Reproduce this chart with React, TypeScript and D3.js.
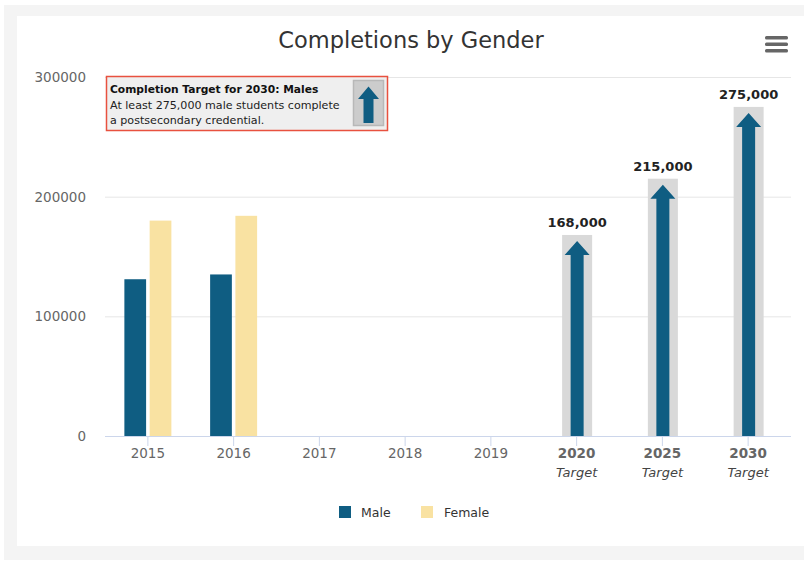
import React from 'react';
import * as d3 from 'd3';

const categories = ['2015', '2016', '2017', '2018', '2019', '2020', '2025', '2030'];
const targetFlags = [false, false, false, false, false, true, true, true];
const maleValues: (number | null)[] = [131000, 135000, null, null, null, null, null, null];
const femaleValues: (number | null)[] = [180000, 184000, null, null, null, null, null, null];
const targetValues: (number | null)[] = [null, null, null, null, null, 168000, 215000, 275000];
const yTicks = [0, 100000, 200000, 300000];

const W = 804;
const H = 563;
const FONT = '"DejaVu Sans", "Lucida Grande", sans-serif';
const MALE = '#0f5d82';
const FEMALE = '#f9e2a2';
const TARGET_BG = '#d9d9d9';

const plot = { left: 105, right: 791, top: 77, bottom: 436 };

function Arrow({ cx, top, bottom, headW, shaftW, headH }: { cx: number; top: number; bottom: number; headW: number; shaftW: number; headH: number }) {
  const d = [
    `M${cx},${top}`,
    `L${cx + headW / 2},${top + headH}`,
    `L${cx + shaftW / 2},${top + headH}`,
    `L${cx + shaftW / 2},${bottom}`,
    `L${cx - shaftW / 2},${bottom}`,
    `L${cx - shaftW / 2},${top + headH}`,
    `L${cx - headW / 2},${top + headH}`,
    'Z',
  ].join(' ');
  return <path d={d} fill={MALE} />;
}

export default function App() {
  const x = d3.scaleBand<string>().domain(categories).range([plot.left, plot.right]);
  const y = d3.scaleLinear().domain([0, 300000]).range([plot.bottom, plot.top]);
  const inner = d3.scaleBand<string>().domain(['Male', 'Female']).range([0, 47]).paddingInner(0.14);
  const fmt = d3.format(',');

  return (
    <svg
      width={W}
      height={H}
      style={{ position: 'absolute', left: 0, top: 0, fontFamily: FONT }}
    >
      <rect x={4} y={5} width={W - 4} height={555} fill="#f4f4f4" />
      <rect x={17} y={16} width={W - 17} height={530} fill="#ffffff" />

      <text x={411} y={48} textAnchor="middle" fontSize={22.5} fill="#333333">
        Completions by Gender
      </text>

      {/* menu icon */}
      {[36, 42.5, 49].map((yy) => (
        <rect key={yy} x={765} y={yy} width={23} height={3.5} rx={1.5} fill="#666666" />
      ))}

      {/* grid + y axis */}
      {yTicks.map((t) => (
        <g key={t}>
          {t > 0 && (
            <line x1={plot.left} x2={plot.right} y1={y(t) + 0.5} y2={y(t) + 0.5} stroke="#e6e6e6" />
          )}
          <text x={86} y={y(t) + 5} textAnchor="end" fontSize={13.5} fill="#666666">
            {t}
          </text>
        </g>
      ))}

      {/* series bars */}
      {categories.map((c, i) => {
        const x0 = (x(c) ?? 0) + x.bandwidth() / 2 - 23.5;
        const m = maleValues[i];
        const f = femaleValues[i];
        return (
          <g key={c}>
            {m != null && (
              <rect x={x0 + (inner('Male') ?? 0)} y={y(m)} width={inner.bandwidth()} height={y(0) - y(m)} fill={MALE} />
            )}
            {f != null && (
              <rect x={x0 + (inner('Female') ?? 0)} y={y(f)} width={inner.bandwidth()} height={y(0) - y(f)} fill={FEMALE} />
            )}
          </g>
        );
      })}

      {/* targets */}
      {categories.map((c, i) => {
        const v = targetValues[i];
        if (v == null) return null;
        const cx = (x(c) ?? 0) + x.bandwidth() / 2 + 0.5;
        return (
          <g key={c}>
            <rect x={cx - 15} y={y(v)} width={30} height={y(0) - y(v)} fill={TARGET_BG} />
            <Arrow cx={cx} top={y(v) + 6} bottom={y(0)} headW={25} shaftW={13} headH={14} />
            <text x={cx} y={y(v) - 8} textAnchor="middle" fontSize={13} fontWeight="bold" fill="#222222">
              {fmt(v)}
            </text>
          </g>
        );
      })}

      {/* x axis */}
      <line x1={plot.left} x2={plot.right} y1={plot.bottom + 0.5} y2={plot.bottom + 0.5} stroke="#ccd6eb" />
      {categories.map((c, i) => {
        const cx = (x(c) ?? 0) + x.bandwidth() / 2;
        return (
          <g key={c}>
            <line x1={cx} x2={cx} y1={plot.bottom} y2={plot.bottom + 10} stroke="#ccd6eb" />
            <text
              x={cx}
              y={458}
              textAnchor="middle"
              fontSize={13.5}
              fill="#666666"
              fontWeight={targetFlags[i] ? 'bold' : 'normal'}
            >
              {c}
            </text>
            {targetFlags[i] && (
              <text x={cx} y={477} textAnchor="middle" fontSize={13} fontStyle="italic" fill="#444444">
                Target
              </text>
            )}
          </g>
        );
      })}

      {/* annotation box */}
      <rect x={106.5} y={76.5} width={281} height={54} fill="#efefef" stroke="#e8513f" strokeWidth={1.5} />
      <text x={110} y={93} fontSize={10.7} fontWeight="bold" fill="#111111">
        Completion Target for 2030: Males
      </text>
      <text x={110} y={108.5} fontSize={11.1} fill="#222222">
        At least 275,000 male students complete
      </text>
      <text x={110} y={124} fontSize={11.1} fill="#222222">
        a postsecondary credential.
      </text>
      <rect x={353.5} y={80.5} width={30} height={45} fill="#cccccc" stroke="#b8b8b8" strokeWidth={1.5} />
      <Arrow cx={368.5} top={86.5} bottom={123} headW={21} shaftW={10} headH={12.5} />

      {/* legend */}
      <rect x={339} y={506} width={12} height={12} fill={MALE} />
      <text x={361} y={517} fontSize={12.5} fill="#333333">
        Male
      </text>
      <rect x={421} y={506} width={12} height={12} fill={FEMALE} />
      <text x={444} y={517} fontSize={12.5} fill="#333333">
        Female
      </text>
    </svg>
  );
}
